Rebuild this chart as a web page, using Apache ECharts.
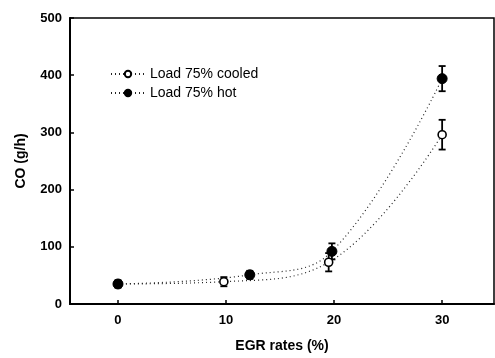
<!DOCTYPE html>
<html><head><meta charset="utf-8">
<script src="https://cdn.jsdelivr.net/npm/echarts@6/dist/echarts.min.js"></script>
<style>html,body{margin:0;padding:0;background:#fff}#c{width:495px;height:358px}</style>
</head><body><div id="c"></div>
<script>
var seriesNames = ['Load 75% cooled', 'Load 75% hot'];
var xCooled = [0, 9.8, 19.5, 30];
var yCooled = [35, 39, 73, 296];
var errCooled = [6, 8, 16, 26];
var xHot = [0, 12.2, 19.8, 30];
var yHot = [35, 51, 92, 394];
var errHot = [6, 7, 14, 22];
var xTicks = [0, 10, 20, 30];

function pairs(xs, ys){ return xs.map(function(x,i){return [x, ys[i]];}); }
function errData(xs, ys, es){ return xs.map(function(x,i){return [x, ys[i]-es[i], ys[i]+es[i]];}); }
function errRender(params, api){
  var x = api.value(0), lo = api.coord([x, api.value(1)]), hi = api.coord([x, api.value(2)]);
  var w = 3.5;
  var st = {stroke:'#000', lineWidth:1.8, fill:null};
  return {type:'group', children:[
    {type:'line', shape:{x1:lo[0],y1:lo[1],x2:hi[0],y2:hi[1]}, style:st},
    {type:'line', shape:{x1:lo[0]-w,y1:lo[1],x2:lo[0]+w,y2:lo[1]}, style:st},
    {type:'line', shape:{x1:hi[0]-w,y1:hi[1],x2:hi[0]+w,y2:hi[1]}, style:st}
  ]};
}
var FONT = '"Liberation Sans", Arial, sans-serif';
var chart = echarts.init(document.getElementById('c'), null, {renderer:'canvas'});
chart.setOption({
  animation:false,
  backgroundColor:'#fff',
  grid:{left:70, right:1, top:18, bottom:51, show:true, borderColor:'#000', borderWidth:1.5},
  legend:{
    orient:'vertical', left:105, top:62, itemWidth:34, itemHeight:8, itemGap:5,
    textStyle:{fontFamily:FONT, fontSize:14, color:'#000'},
    data:seriesNames
  },
  xAxis:{
    type:'value', min:-4.44, max:34.8,
    splitLine:{show:false},
    axisLine:{onZero:false, lineStyle:{color:'#000', width:2}},
    axisTick:{inside:true, length:4, customValues:xTicks, lineStyle:{color:'#000', width:1.5}},
    axisLabel:{customValues:xTicks, fontFamily:FONT, fontSize:13, fontWeight:'bold', color:'#000', margin:10},
    name:'EGR rates (%)', nameLocation:'middle', nameGap:35,
    nameTextStyle:{fontFamily:FONT, fontSize:14, fontWeight:'bold', color:'#000'}
  },
  yAxis:{
    type:'value', min:0, max:500, interval:100,
    splitLine:{show:false},
    axisLine:{onZero:false, lineStyle:{color:'#000', width:2}},
    axisTick:{inside:true, length:4, lineStyle:{color:'#000', width:1.5}},
    axisLabel:{fontFamily:FONT, fontSize:13, fontWeight:'bold', color:'#000', margin:8},
    name:'CO (g/h)', nameLocation:'middle', nameGap:42,
    nameTextStyle:{fontFamily:FONT, fontSize:14, fontWeight:'bold', color:'#000'}
  },
  series:[
    {type:'custom', renderItem:errRender, data:errData(xCooled,yCooled,errCooled), z:3, silent:true},
    {type:'custom', renderItem:errRender, data:errData(xHot,yHot,errHot), z:3, silent:true},
    {name:seriesNames[0], type:'line', smooth:0.4, data:pairs(xCooled,yCooled),
     symbol:'circle', symbolSize:8, z:5,
     itemStyle:{color:'#fff', borderColor:'#000', borderWidth:1.6},
     lineStyle:{color:'#222', width:1.2, type:[1,3]}},
    {name:seriesNames[1], type:'line', smooth:0.4, data:pairs(xHot,yHot),
     symbol:'circle', symbolSize:10, z:5,
     itemStyle:{color:'#000', borderColor:'#000', borderWidth:1},
     lineStyle:{color:'#222', width:1.2, type:[1,3]}}
  ]
});
</script></body></html>
